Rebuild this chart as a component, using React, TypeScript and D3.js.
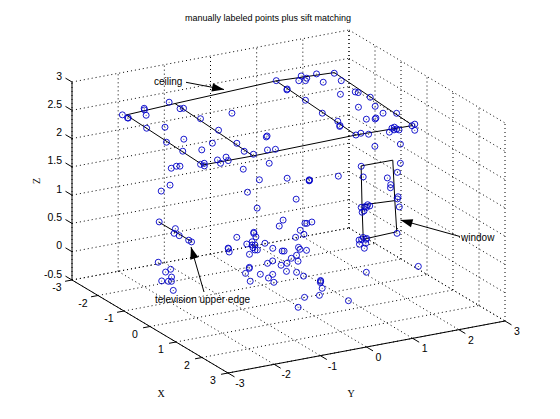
import React from 'react';
import * as d3 from 'd3';

const width = 560, height = 419;

const xTicks = [-3, -2, -1, 0, 1, 2, 3];
const yTicks = [-3, -2, -1, 0, 1, 2, 3];
const zTicks = [-0.5, 0, 0.5, 1, 1.5, 2, 2.5, 3];
const title = 'manually labeled points plus sift matching';

// scattered points, grouped by height
const ceilingZ = 2.4;
const ceilingPts = [
  [-2.59,-2.14],[-2.39,-2.14],[-2.38,-2.13],[-2.71,-1.6],[-2.63,-1.64],[-2.35,-1.76],[-1.71,-2.11],[-2.78,-1.02],
  [-1.59,-1.78],[-0.84,-2.17],[-2.36,-1.02],[-2.35,-0.95],[-0.83,-1.8],[-0.25,-2.15],[-1.68,-0.96],[-0.14,-1.8],
  [-0.37,-1.44],[-0.95,-0.98],[-1.66,-0.29],[-0.14,-1.04],[0.32,-1.14],[0.55,-1.07],[0.47,-0.72],[0.51,-0.57],
  [-0.22,-0.34],[-0.18,-0.38],[1.14,-1.06],[0.56,-2.22],[0.54,-2.13],[0.67,-2.2],[0.5,-1.82],[0.69,-1.86],
  [0.44,-1.6],[0.63,-1.66],[1.19,-1.65],[0.48,-2.81],[0.43,-2.67],[0.46,-2.61],[-2.85,1.34],[-2.34,1.29],
  [-2.3,1.26],[-1.62,1.28],[-2.64,1.71],[-2.85,1.88],[-2.69,1.91],[-2.58,1.82],[-2.81,2.19],[-2.68,2.5],
  [-2.34,2.07],[-2.25,2.41],[-1.59,2.02],[-0.83,1.2],[-0.29,1.23],[-0.06,1.15],[-0.02,1.12],[-1.57,2.33],
  [-1.51,2.36],[-1.17,2.43],[-0.68,2.26],[-0.79,1.96],[-0.27,2.2],[-0.14,2.42],[-0.13,1.76],[-0.1,1.95],
  [-0.06,1.91],[0.55,1.15],[0.51,1.28],[0.63,1.38],[0.72,1.78],[0.55,1.93],[0.52,2.0],[0.65,1.92],
  [0.63,1.99],[0.7,2.0],[0.61,2.33],[0.56,2.42],[0.86,2.25],[1.41,1.63],[1.28,1.15],
];
const windowTopZ = 1.8;
const windowTopPts = [
  [0.47,1.31],[0.68,2.04],[1.1,1.74],[1.01,1.05],[1.28,1.42],[1.64,1.29],[1.79,1.2],
];
const windowMidZ = 1.1;
const windowMidPts = [
  [0.36,2.17],[0.46,2.1],[0.87,1.91],[0.54,1.27],[0.54,1.35],[0.47,1.45],[0.55,1.45],[0.59,1.36],[0.79,1.15],[0.74,1.22],
];
const midZ = 1.5;
const midPts = [
  [-0.64,-0.27],[-0.46,0.23],[-0.18,0.55],[-0.15,0.54],[-0.13,0.52],[-0.09,1.13],[-1.2,-1.89],[-0.99,-2.2],
  [-0.14,-0.81],[0.65,-0.2],[0.73,-1.09],
];
const lowZ = 0.5;
const lowPts = [
  [0.48,2.08],[0.37,1.41],[0.46,1.27],[0.49,1.4],[0.45,1.44],[0.45,1.33],[0.67,1.16],[0.68,1.29],[0.91,1.13],
  [-1.22,0.57],[-0.96,0.34],[-0.86,0.84],[-0.84,0.87],[-0.86,0.99],[-0.56,0.57],[-0.33,0.52],[-0.26,0.3],
  [-0.8,-0.67],[-0.89,-0.25],[-0.84,-0.28],[-0.65,-0.34],[-0.38,-0.69],[-0.44,-0.54],[-0.28,-0.63],[-0.26,-0.58],
  [-0.14,-0.69],[-0.01,-0.72],[0.01,-0.68],[0.15,-0.93],[-0.25,-0.37],[0.07,-0.38],[-0.32,-1.12],[-0.35,-1.11],
  [-0.15,-1.2],[0.29,-0.3],[0.31,-0.27],[0.26,0.07],[0.37,0.04],[0.48,0.12],[0.63,-0.18],[0.73,-0.35],
];
const tvZ = 0.8;
const tvPts = [
  [-1.44,-1.99],[-0.96,-1.91],[-0.74,-2.06],[-0.58,-2.04],[-0.27,-2.01],[-0.16,-2.01],
];
const floorZ = 0;
const floorPts = [
  [-1.69,-1.87],[-1.14,-2.02],[-1.23,-1.86],[-0.84,-2.06],[-0.74,-2.33],[-0.66,-2.23],[-0.63,-2.18],[-0.17,-2.4],
  [-0.45,0.22],[-0.45,0.46],[-0.7,0.05],[-0.63,-0.1],[-0.41,0.07],[-0.06,-0.01],[0.08,0.13],[0.33,0.14],
  [-0.6,-0.51],[-0.55,-0.54],[-0.34,-0.74],[-0.16,-0.52],[-0.04,-0.32],[0.1,-0.49],[0.36,-0.52],[0.09,-0.88],
  [0.74,0.28],[0.7,0.3],[0.8,0.24],[1.1,0.11],[1.42,-0.13],[1.38,-0.43],[1.81,-0.81],[1.95,0.2],[0.72,1.28],[0.91,2.3],
];

// hand labeled outlines
const ceilingOutline = [
  [-2.55,-2.08],[-2.66,-0.96],[-2.84,1.33],[-2.71,2.52],[0.61,2.35],[0.55,1.15],[0.63,-1.12],[0.61,-2.2],[-2.55,-2.08],
];
const ceilingBar1 = [[-2.66,-0.96],[0.63,-1.12]];
const ceilingBar2 = [[-2.84,1.33],[0.55,1.15]];
const windowOutline = [
  [0.45,1.32,1.8],[0.46,2.0,1.8],[0.52,2.01,1.1],[0.4,2.12,0.5],[0.46,1.36,0.5],[0.43,1.35,1.1],[0.45,1.32,1.8],
];
const windowBar = [[0.43,1.35,1.1],[0.52,2.01,1.1]];
const tvEdge = [[-1.44,-2.0,0.8],[-0.15,-2.0,0.8]];

const annotations = [
  { label: 'ceiling', tx: 154, ty: 85, from: [186, 82.3], to: [224, 89.5] },
  { label: 'television upper edge', tx: 155, ty: 303, from: [204, 292], to: [191, 247] },
  { label: 'window', tx: 461, ty: 241, from: [460, 236.5], to: [400.5, 220] },
];

// the view is a fixed orthographic one, so each data axis maps to a screen offset
const originX = 72, originY = 280;
const xToH = d3.scaleLinear().domain([-3, 3]).range([0, 156]);
const xToV = d3.scaleLinear().domain([-3, 3]).range([0, 93]);
const yToH = d3.scaleLinear().domain([-3, 3]).range([0, 277]);
const yToV = d3.scaleLinear().domain([-3, 3]).range([0, -52]);
const zToV = d3.scaleLinear().domain([-0.5, 3]).range([0, -198]);

const project = (x: number, y: number, z: number): [number, number] => [
  originX + xToH(x) + yToH(y),
  originY + xToV(x) + yToV(y) + zToV(z),
];

const path3 = d3.line();
const seg = (a: number[], b: number[]) => path3([project(a[0], a[1], a[2]), project(b[0], b[1], b[2])]) as string;

const flat = (pts: number[][], z: number) => pts.map(p => [p[0], p[1], z]);
const allPoints = [
  ...flat(ceilingPts, ceilingZ),
  ...flat(windowTopPts, windowTopZ),
  ...flat(windowMidPts, windowMidZ),
  ...flat(midPts, midZ),
  ...flat(lowPts, lowZ),
  ...flat(tvPts, tvZ),
  ...flat(floorPts, floorZ),
];

const linePaths = [
  path3(flat(ceilingOutline, ceilingZ).map(p => project(p[0], p[1], p[2]))),
  path3(flat(ceilingBar1, ceilingZ).map(p => project(p[0], p[1], p[2]))),
  path3(flat(ceilingBar2, ceilingZ).map(p => project(p[0], p[1], p[2]))),
  path3(windowOutline.map(p => project(p[0], p[1], p[2]))),
  path3(windowBar.map(p => project(p[0], p[1], p[2]))),
  path3(tvEdge.map(p => project(p[0], p[1], p[2]))),
] as string[];

const gridPaths: string[] = [];
xTicks.forEach(x => {
  gridPaths.push(seg([x, -3, -0.5], [x, 3, -0.5]));
  gridPaths.push(seg([x, 3, -0.5], [x, 3, 3]));
});
yTicks.forEach(y => {
  gridPaths.push(seg([-3, y, -0.5], [3, y, -0.5]));
  gridPaths.push(seg([-3, y, -0.5], [-3, y, 3]));
});
zTicks.forEach(z => {
  gridPaths.push(seg([-3, -3, z], [-3, 3, z]));
  gridPaths.push(seg([-3, 3, z], [3, 3, z]));
});

const font = '"Liberation Sans", Arial, sans-serif';

function arrowHead(from: number[], to: number[]) {
  const ang = Math.atan2(to[1] - from[1], to[0] - from[0]);
  const len = 12, half = 4.2;
  const bx = to[0] - len * Math.cos(ang), by = to[1] - len * Math.sin(ang);
  const nx = -Math.sin(ang) * half, ny = Math.cos(ang) * half;
  return `M${to[0]},${to[1]}L${bx + nx},${by + ny}L${bx - nx},${by - ny}Z`;
}

export default function App() {
  return (
    <svg width={width} height={height} style={{ position: 'absolute', left: 0, top: 0, background: '#fff' }}>
      {gridPaths.map((d, i) => (
        <path key={i} d={d} fill="none" stroke="#000" strokeWidth={1} strokeDasharray="1 3" />
      ))}
      <path d={seg([-3, -3, -0.5], [-3, -3, 3])} stroke="#000" fill="none" />
      <path d={seg([-3, -3, -0.5], [3, -3, -0.5])} stroke="#000" fill="none" />
      <path d={seg([3, -3, -0.5], [3, 3, -0.5])} stroke="#000" fill="none" />

      {xTicks.map(x => {
        const [px, py] = project(x, -3, -0.5);
        return (
          <g key={x}>
            <path d={seg([x, -3, -0.5], [x, -3.15, -0.5])} stroke="#000" fill="none" />
            <text x={px - 15} y={py + 11} textAnchor="middle" fontFamily={font} fontSize={10.5}>{x}</text>
          </g>
        );
      })}
      {yTicks.map(y => {
        const [px, py] = project(3, y, -0.5);
        return (
          <g key={y}>
            <path d={seg([3, y, -0.5], [3.25, y, -0.5])} stroke="#000" fill="none" />
            <text x={px + 12} y={py + 14} textAnchor="middle" fontFamily={font} fontSize={10.5}>{y}</text>
          </g>
        );
      })}
      {zTicks.map(z => {
        const [px, py] = project(-3, -3, z);
        return (
          <g key={z}>
            <path d={seg([-3, -3, z], [-3.25, -3, z])} stroke="#000" fill="none" />
            <text x={px - 10} y={py - 2.5} textAnchor="end" fontFamily={font} fontSize={10.5}>{z}</text>
          </g>
        );
      })}

      {linePaths.map((d, i) => (
        <path key={i} d={d} fill="none" stroke="#000" strokeWidth={1} />
      ))}

      {allPoints.map((p, i) => {
        const [px, py] = project(p[0], p[1], p[2]);
        return (
          <g key={i}>
            <circle cx={px} cy={py} r={3} fill="none" stroke="#0000c8" strokeWidth={0.9} />
            <circle cx={px} cy={py} r={0.5} fill="#334" />
          </g>
        );
      })}

      {annotations.map(a => (
        <g key={a.label}>
          <path d={path3([a.from as [number, number], a.to as [number, number]]) as string} stroke="#000" fill="none" />
          <path d={arrowHead(a.from, a.to)} fill="#000" />
          <text x={a.tx} y={a.ty} fontFamily={font} fontSize={10}>{a.label}</text>
        </g>
      ))}

      <text x={268} y={21} textAnchor="middle" fontFamily={font} fontSize={9}>{title}</text>
      <text x={161} y={397} textAnchor="middle" fontFamily='"Liberation Serif", serif' fontSize={10}>X</text>
      <text x={351} y={397} textAnchor="middle" fontFamily='"Liberation Serif", serif' fontSize={10}>Y</text>
      <text transform="translate(40,181) rotate(-90)" textAnchor="middle" fontFamily='"Liberation Serif", serif' fontSize={10}>Z</text>
    </svg>
  );
}
